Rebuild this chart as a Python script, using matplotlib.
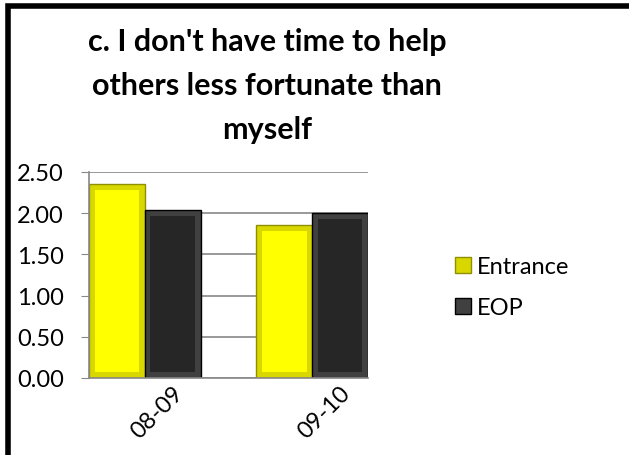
import matplotlib
matplotlib.use('Agg')
import matplotlib.pyplot as plt
import matplotlib.transforms as mtransforms
from matplotlib.patches import Rectangle
import numpy as np

plt.rcParams['font.family'] = ['Lato', 'DejaVu Sans']

# data
categories = ['08-09', '09-10']
series_names = ['Entrance', 'EOP']
entrance = [2.35, 1.86]
eop = [2.04, 2.00]
yticks = [0.0, 0.5, 1.0, 1.5, 2.0, 2.5]

face_cols = ['#D8D800', '#404040']
edge_cols = ['#8F8F00', '#000000']
inner_cols = ['#FFFF00', '#262626']

fig = plt.figure(figsize=(6.29, 4.56), dpi=100)
ax = fig.add_axes([89/629, 1-379/456, (368-89)/629, (379-173)/456])

x = np.array([0.0, 3.0])
bars = []
for i, vals in enumerate([entrance, eop]):
    b = ax.bar(x + i, vals, width=1.0, color=face_cols[i], edgecolor=edge_cols[i],
               linewidth=1.0, label=series_names[i], zorder=2)
    # simple bevel look
    ax.bar(x + i, np.array(vals) - 0.14, bottom=0.07, width=0.8, color=inner_cols[i],
           edgecolor='none', zorder=3)
    bars.append(b)

ax.set_xlim(-0.5, 4.5)
ax.set_ylim(0, 2.5)
ax.set_yticks(yticks)
ax.set_yticklabels(['%.2f' % v for v in yticks], fontsize=17)
ax.set_xticks(x + 0.5)
ax.set_xticklabels(categories, fontsize=17, rotation=45, ha='center')
ax.tick_params(axis='x', length=0, pad=3)
ax.tick_params(axis='y', length=6, color='#888888', pad=12)
shift = mtransforms.ScaledTranslation(12/100, 0, fig.dpi_scale_trans)
for lab in ax.get_xticklabels():
    lab.set_transform(lab.get_transform() + shift)
ax.grid(axis='y', color='#888888', linewidth=1.2, zorder=0)
ax.set_axisbelow(True)
for s in ['top', 'right']:
    ax.spines[s].set_visible(False)
ax.spines['left'].set_color('#888888')
ax.spines['bottom'].set_color('#888888')
ax.spines['left'].set_linewidth(1.2)
ax.spines['bottom'].set_linewidth(1.2)

fig.text(267/629, 1-86/456, "c. I don't have time to help\nothers less fortunate than\nmyself",
         ha='center', va='center', fontsize=22, fontweight='bold', linespacing=1.68)

leg = fig.legend(handles=bars, labels=series_names, loc='center left',
                 bbox_to_anchor=(434/629, 1-288/456), frameon=False, fontsize=17,
                 handlelength=0.65, handleheight=0.65, handletextpad=0.25, labelspacing=0.85)

# frame around the chart
fig.patches.append(Rectangle((8/629, -0.1), 1.2, 1 - 7/456 + 0.1, transform=fig.transFigure,
                             fill=False, edgecolor='black', linewidth=4))

fig.savefig('out.png', dpi=100)
